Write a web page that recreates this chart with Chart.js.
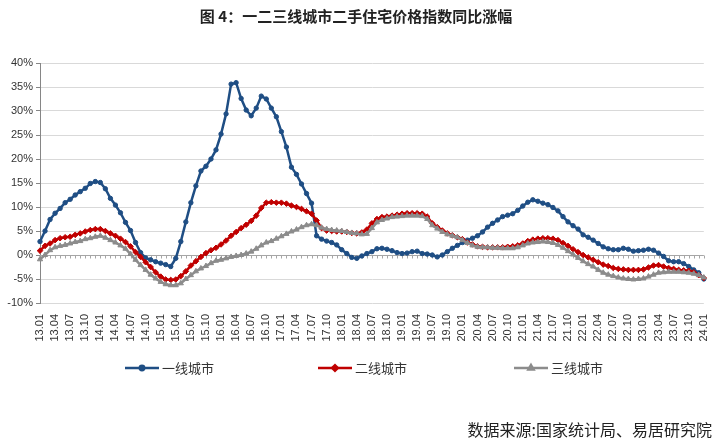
<!DOCTYPE html>
<html><head><meta charset="utf-8">
<script src="https://cdn.jsdelivr.net/npm/chart.js@4/dist/chart.umd.min.js"></script>
<style>html,body{margin:0;padding:0;background:#fff;}#wrap{width:720px;height:443px;}</style>
</head><body><div id="wrap"><canvas id="c" width="720" height="443"></canvas></div>
<script>
const chartTitle = '图 4：一二三线城市二手住宅价格指数同比涨幅';
const sourceText = '数据来源:国家统计局、易居研究院';
const seriesNames = ['一线城市', '二线城市', '三线城市'];
const yTicks = [-10, -5, 0, 5, 10, 15, 20, 25, 30, 35, 40];

// monthly categories 2013.01 .. 2024.01
const categories = [];
for (let y = 13; y <= 24; y++) {
  for (let m = 1; m <= 12; m++) {
    if (y === 24 && m > 1) break;
    categories.push(y + '.' + (m < 10 ? '0' + m : '' + m));
  }
}

const tier1 = [
  2.8, 5.0, 7.4, 8.7, 9.7, 10.9, 11.6, 12.5, 13.2, 13.9, 14.9, 15.3,
  15.1, 13.8, 11.8, 10.4, 8.8, 6.8, 5.1, 2.6, 0.5, -0.6, -1.0, -1.4,
  -1.7, -2.0, -2.4, -0.7, 2.8, 6.9, 10.9, 14.4, 17.5, 18.5, 20.0, 21.9,
  25.2, 29.4, 35.6, 35.9, 32.6, 30.2, 29.0, 30.6, 33.1, 32.5, 30.6, 28.8,
  25.7, 22.5, 18.3, 16.8, 14.8, 12.8, 10.8, 4.0, 3.3, 2.9, 2.6, 2.1,
  1.1, 0.3, -0.5, -0.7, -0.2, 0.3, 0.7, 1.3, 1.4, 1.2, 0.9, 0.5,
  0.3, 0.4, 0.7, 0.8, 0.3, 0.2, 0.0, -0.4, 0.0, 0.7, 1.4, 2.0,
  2.6, 3.1, 3.5, 4.0, 4.8, 5.8, 6.6, 7.3, 8.0, 8.3, 8.6, 9.3,
  10.2, 11.0, 11.5, 11.2, 10.8, 10.5, 9.9, 9.2, 8.0, 6.9, 6.1, 5.4,
  4.2, 3.7, 3.1, 2.4, 1.7, 1.3, 1.1, 1.1, 1.4, 1.2, 0.8, 0.9,
  1.0, 1.2, 1.0, 0.4, -0.3, -1.2, -1.4, -1.4, -1.8, -2.4, -3.1, -3.7,
  -5.0
];
const tier2 = [
  0.9, 1.9, 2.4, 3.1, 3.5, 3.7, 3.8, 4.2, 4.5, 4.9, 5.2, 5.4,
  5.4, 5.0, 4.5, 4.0, 3.4, 2.7, 1.8, 0.6, -0.4, -1.5, -2.5, -3.6,
  -4.5, -5.1, -5.2, -5.1, -4.4, -3.4, -2.2, -1.3, -0.4, 0.4, 1.0, 1.5,
  2.2, 3.0, 4.0, 4.8, 5.6, 6.3, 7.1, 8.2, 9.8, 10.9, 11.0, 10.9,
  10.9, 10.7, 10.3, 10.0, 9.6, 9.1, 8.6, 7.2, 5.6, 5.1, 5.0, 4.9,
  4.9, 4.8, 4.6, 4.5, 4.7, 5.3, 6.6, 7.5, 7.9, 8.0, 8.2, 8.4,
  8.6, 8.7, 8.7, 8.7, 8.6, 8.0, 6.6, 5.8, 5.1, 4.5, 4.1, 3.7,
  3.3, 2.6, 2.2, 1.8, 1.7, 1.6, 1.6, 1.6, 1.6, 1.7, 1.8, 2.0,
  2.4, 2.9, 3.2, 3.4, 3.5, 3.5, 3.4, 3.1, 2.5, 1.9, 1.2, 0.6,
  0.0, -0.5, -1.0, -1.5, -2.0, -2.3, -2.7, -2.9, -3.0, -3.1, -3.1, -3.1,
  -3.0, -2.6, -2.2, -2.1, -2.4, -2.7, -2.9, -3.1, -3.2, -3.3, -3.6, -4.2,
  -4.8
];
const tier3 = [
  -0.9, 0.0, 1.0, 1.6, 1.9, 2.1, 2.4, 2.7, 2.9, 3.3, 3.5, 3.8,
  4.0, 3.6, 3.1, 2.6, 2.0, 1.3, 0.2, -1.0, -2.1, -3.1, -4.1, -4.9,
  -5.6, -6.1, -6.3, -6.3, -5.9, -5.0, -4.2, -3.4, -2.8, -2.3, -1.7, -1.2,
  -1.0, -0.7, -0.4, -0.2, 0.0, 0.3, 0.7, 1.3, 2.0, 2.6, 2.9, 3.4,
  3.9, 4.4, 4.9, 5.3, 5.8, 6.2, 6.4, 6.2, 5.7, 5.4, 5.2, 5.1,
  5.0, 4.8, 4.6, 4.5, 4.3, 4.4, 5.6, 6.8, 7.3, 7.6, 7.9, 8.0,
  8.1, 8.2, 8.2, 8.2, 8.1, 7.5, 6.2, 5.5, 4.8, 4.3, 4.0, 3.7,
  3.1, 2.5, 2.0, 1.7, 1.6, 1.6, 1.5, 1.5, 1.4, 1.4, 1.4, 1.6,
  2.0, 2.4, 2.6, 2.7, 2.8, 2.7, 2.5, 2.1, 1.5, 0.8, 0.1, -0.6,
  -1.3, -1.9, -2.4, -3.1, -3.7, -4.1, -4.4, -4.7, -4.9, -5.0, -5.1, -5.0,
  -4.9, -4.5, -4.1, -3.7, -3.6, -3.5, -3.5, -3.5, -3.6, -3.7, -3.9, -4.2,
  -4.7
];

const colors = ['#1F4E84', '#C00000', '#8C8C8C'];
const pointStyles = ['circle', 'rectRot', 'triangle'];
const pointSizes = [2.2, 2.8, 3];
const CJK = '"Noto Sans CJK SC", "Noto Sans", sans-serif';
const LAT = '"Liberation Sans", Arial, sans-serif';

const zeroLine = {
  id: 'zeroLine',
  beforeDatasetsDraw(chart) {
    const ctx = chart.ctx, xs = chart.scales.x, ys = chart.scales.y, a = chart.chartArea;
    const y0 = Math.round(ys.getPixelForValue(0)) + 0.5;
    ctx.save();
    ctx.strokeStyle = '#A6A6A6';
    ctx.lineWidth = 1;
    ctx.beginPath();
    ctx.moveTo(a.left, y0); ctx.lineTo(a.right, y0);
    for (let i = 0; i < categories.length; i++) {
      const x = Math.round(xs.getPixelForValue(i)) + 0.5;
      ctx.moveTo(x, y0); ctx.lineTo(x, y0 + 3);
    }
    ctx.stroke();
    ctx.restore();
  }
};

const legendAndSource = {
  id: 'legendAndSource',
  afterDraw(chart) {
    const ctx = chart.ctx;
    const starts = [125, 318, 514];
    const ly = 368;
    ctx.save();
    chart.data.datasets.forEach((ds, i) => {
      const x0 = starts[i];
      ctx.strokeStyle = ds.borderColor;
      ctx.lineWidth = 2.5;
      ctx.beginPath(); ctx.moveTo(x0, ly); ctx.lineTo(x0 + 34, ly); ctx.stroke();
      Chart.helpers.drawPoint(ctx, {pointStyle: ds.pointStyle, radius: ds.pointRadius, borderWidth: 1}, x0 + 17, ly);
      ctx.fillStyle = ds.borderColor;
      ctx.fill();
      ctx.fillStyle = '#333';
      ctx.font = '13px ' + CJK;
      ctx.textBaseline = 'middle';
      ctx.textAlign = 'left';
      ctx.fillText(ds.label, x0 + 37, ly);
    });
    ctx.font = '16px ' + CJK;
    ctx.textAlign = 'right';
    ctx.fillStyle = '#222';
    ctx.fillText(sourceText, 712, 430);
    ctx.restore();
  }
};

new Chart(document.getElementById('c'), {
  type: 'line',
  data: {
    labels: categories,
    datasets: [tier1, tier2, tier3].map((d, i) => ({
      label: seriesNames[i],
      data: d,
      borderColor: colors[i],
      backgroundColor: colors[i],
      pointBackgroundColor: colors[i],
      pointBorderColor: colors[i],
      pointStyle: pointStyles[i],
      pointRadius: pointSizes[i],
      pointBorderWidth: 1,
      borderWidth: 2.5,
      tension: 0,
      order: 2 - i
    }))
  },
  options: {
    responsive: false,
    animation: false,
    devicePixelRatio: 1,
    layout: {padding: {left: 2, right: 10, top: 0, bottom: 90}},
    plugins: {
      legend: {display: false},
      tooltip: {enabled: false},
      title: {
        display: true, text: chartTitle, color: '#222',
        font: {family: CJK, size: 15, weight: 'bold'},
        padding: {top: 7, bottom: 38}
      }
    },
    scales: {
      x: {
        type: 'category',
        offset: false,
        grid: {display: false},
        border: {display: false},
        ticks: {
          autoSkip: false, minRotation: 90, maxRotation: 90,
          font: {family: LAT, size: 11}, color: '#333', padding: 3,
          callback: (v, i) => (i % 3 === 0 ? categories[i] : null)
        },
        afterFit: s => { s.height = 50; }
      },
      y: {
        min: -10, max: 40,
        afterBuildTicks: s => { s.ticks = yTicks.map(v => ({value: v})); },
        ticks: {font: {family: LAT, size: 11}, color: '#333', padding: 3, callback: v => v + '%'},
        grid: {color: '#D9D9D9', tickLength: 4, tickColor: '#868686'},
        border: {color: '#868686'},
        afterFit: s => { s.width = 38; }
      }
    }
  },
  plugins: [zeroLine, legendAndSource]
});
</script>
</body></html>
